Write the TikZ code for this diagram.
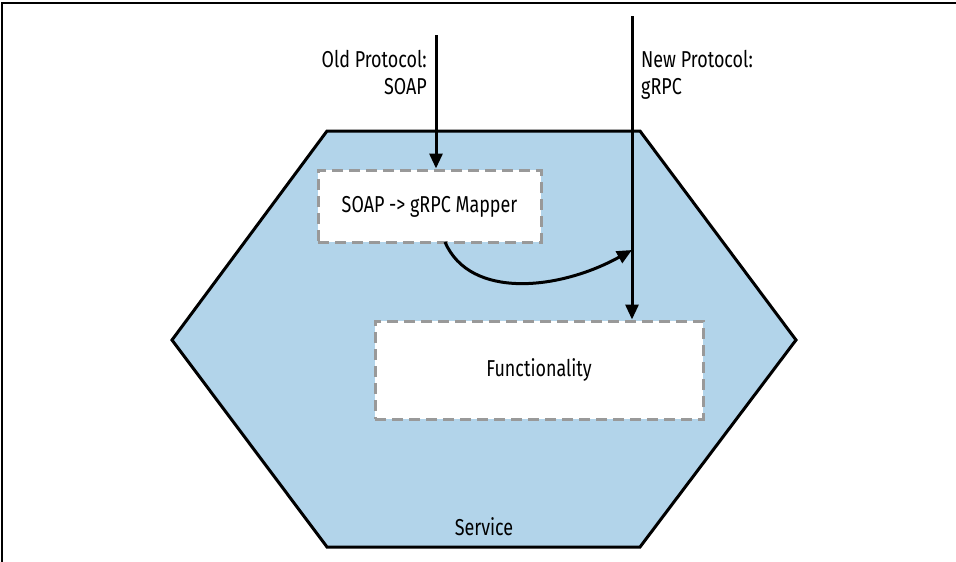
\documentclass[tikz,border=0pt]{standalone}
\usepackage{fontspec}
\setmainfont{Fira Sans}[FakeStretch=0.78]
\usetikzlibrary{arrows.meta}
\definecolor{svcblue}{HTML}{B2D4EA}
\definecolor{dashgray}{HTML}{999999}
\tikzset{
  conn/.style={line width=3pt, -{Triangle[length=15pt,width=13pt]}},
  dbox/.style={draw=dashgray, fill=white, line width=3pt, dash pattern=on 11pt off 6pt, inner sep=0pt},
  lbl/.style={font=\fontsize{23}{27}\selectfont, inner sep=0pt},
}
\begin{document}
\begin{tikzpicture}[x=1pt,y=-1pt]
\useasboundingbox (0,0) rectangle (956,562);
% frame
\draw[line width=1.5pt] (2,562) -- (2,3) -- (956,3);
% hexagon
\coordinate (hl) at (172,340);
\coordinate (htl) at (327,131);
\coordinate (htr) at (640,131);
\coordinate (hr) at (796,340);
\coordinate (hbr) at (640,547);
\coordinate (hbl) at (327,547);
\draw[fill=svcblue, line width=3pt, line join=miter] (hl) -- (htl) -- (htr) -- (hr) -- (hbr) -- (hbl) -- cycle;
\node[lbl] (svc) at (484,527) {Service};
% boxes
\node[dbox, minimum width=223pt, minimum height=72pt] (map) at (429.5,206) {};
\node[lbl] (maptxt) at (429.5,207) {SOAP -> gRPC Mapper};
\node[dbox, minimum width=328pt, minimum height=98pt] (func) at (539,370) {};
\node[lbl] (functxt) at (539,370) {Functionality};
% labels
\node[lbl, anchor=north east, align=right] (old) at (427,50) {Old Protocol:\\SOAP};
\node[lbl, anchor=north west, align=left] (new) at (641,50) {New Protocol:\\gRPC};
% connectors
\coordinate (otop) at (436,35);
\coordinate (ntop) at (632,16);
\coordinate (join) at (632,250);
\draw[conn] (otop) -- (otop |- map.north);
\draw[conn] (ntop) -- (ntop |- func.north);
\draw[conn] (445,242) .. controls (470,300) and (560,290) .. (join);
\end{tikzpicture}
\end{document}
